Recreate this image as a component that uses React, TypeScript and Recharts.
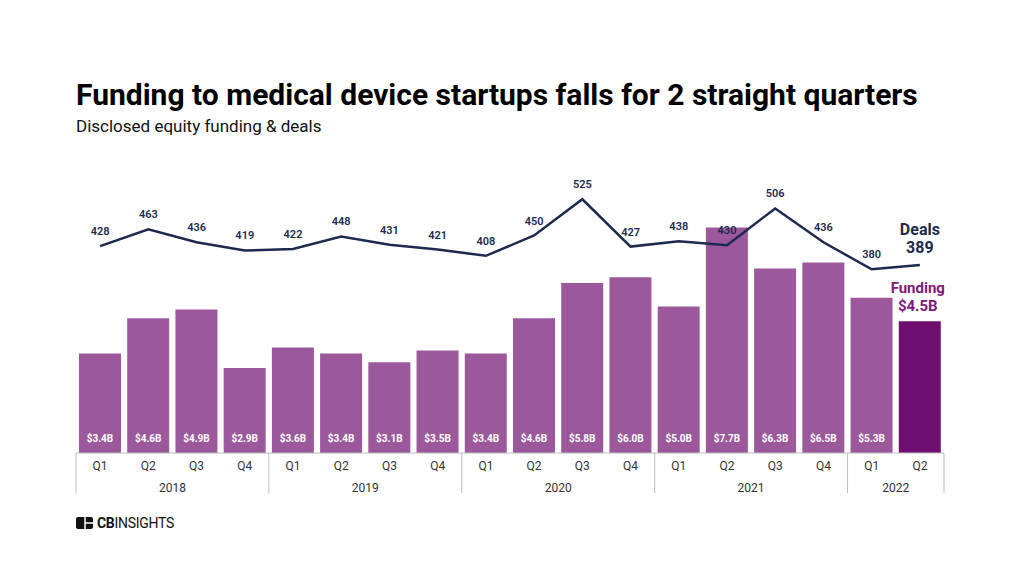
import { Bar, Cell, ComposedChart, LabelList, Line, XAxis, YAxis } from "recharts";

const quarters = ["Q1", "Q2", "Q3", "Q4", "Q1", "Q2", "Q3", "Q4", "Q1", "Q2", "Q3", "Q4", "Q1", "Q2", "Q3", "Q4", "Q1", "Q2"];
const years = ["2018", "2018", "2018", "2018", "2019", "2019", "2019", "2019", "2020", "2020", "2020", "2020", "2021", "2021", "2021", "2021", "2022", "2022"];
const funding = [3.4, 4.6, 4.9, 2.9, 3.6, 3.4, 3.1, 3.5, 3.4, 4.6, 5.8, 6.0, 5.0, 7.7, 6.3, 6.5, 5.3, 4.5];
const deals = [428, 463, 436, 419, 422, 448, 431, 421, 408, 450, 525, 427, 438, 430, 506, 436, 380, 389];

const data = quarters.map((q, i) => ({ q, year: years[i], funding: funding[i], deals: deals[i] }));

const NAVY = "#1d2a4f";
const PURPLE = "#9b599b";
const DARK_PURPLE = "#6e0f6e";
const AXIS = "#bdbdbd";
const FONT = "Roboto, 'Noto Sans', sans-serif";

const W = 1024;
const H = 576;
// bottom margin + default 30px axis height puts the baseline at y=453
const margin = { top: 163, right: 80, bottom: 93, left: 76 };
const slot = (W - margin.left - margin.right) / data.length;
const last = data.length - 1;

function QuarterTick(props: any) {
  const { x, y, index } = props;
  const yr = years[index];
  const first = index === 0 || years[index - 1] !== yr;
  let end = index;
  while (end + 1 < years.length && years[end + 1] === yr) end++;
  return (
    <g>
      <text x={x} y={y + 17} textAnchor="middle" fontSize={12} fill="#333" fontFamily={FONT}>
        {quarters[index]}
      </text>
      {first && (
        <>
          <line x1={x - slot / 2} x2={x - slot / 2} y1={y} y2={y + 40} stroke={AXIS} />
          <text x={x + ((end - index) * slot) / 2} y={y + 39} textAnchor="middle" fontSize={12} fill="#333" fontFamily={FONT}>
            {yr}
          </text>
        </>
      )}
      {index === last && <line x1={x + slot / 2} x2={x + slot / 2} y1={y} y2={y + 40} stroke={AXIS} />}
    </g>
  );
}

function FundingLabel(props: any) {
  const { x, y, width, height, index, value } = props;
  if (index === last) {
    return (
      <g fontFamily={FONT} fontWeight={700} fontSize={15} fill="#7b1a7c" textAnchor="middle">
        <text x={x + width / 2 - 2} y={y - 28}>Funding</text>
        <text x={x + width / 2 - 2} y={y - 10}>${value.toFixed(1)}B</text>
      </g>
    );
  }
  return (
    <text x={x + width / 2} y={y + height - 11} textAnchor="middle" fontSize={10} fontWeight={700} fill="#fff" fontFamily={FONT}>
      ${value.toFixed(1)}B
    </text>
  );
}

function DealsLabel(props: any) {
  const { x, y, index, value } = props;
  if (index === last) {
    return (
      <g fontFamily={FONT} fontWeight={700} fontSize={16} fill={NAVY} textAnchor="middle">
        <text x={x} y={y - 30}>Deals</text>
        <text x={x} y={y - 12}>{value}</text>
      </g>
    );
  }
  return (
    <text x={x} y={y - 11} textAnchor="middle" fontSize={11} fontWeight={600} fill={NAVY} fontFamily={FONT}>
      {value}
    </text>
  );
}

export default function App() {
  return (
    <div style={{ position: "absolute", left: 0, top: 0, width: W, height: H, background: "#fff", fontFamily: FONT }}>
      <div style={{ position: "absolute", left: 76, top: 77, fontSize: 30, fontWeight: 700, color: "#000", whiteSpace: "nowrap" }}>
        Funding to medical device startups falls for 2 straight quarters
      </div>
      <div style={{ position: "absolute", left: 76, top: 116, fontSize: 17, color: "#111", whiteSpace: "nowrap" }}>
        Disclosed equity funding &amp; deals
      </div>
      <ComposedChart width={W} height={H} data={data} margin={margin} barCategoryGap={3}>
        <XAxis
          dataKey="q"
          interval={0}
          tickSize={0}
          tickMargin={0}
          tickLine={false}
          axisLine={{ stroke: AXIS }}
          tick={<QuarterTick />}
        />
        <YAxis yAxisId="funding" hide domain={[0, 9.9]} />
        <YAxis yAxisId="deals" hide domain={[0, 600]} orientation="right" />
        <Bar yAxisId="funding" dataKey="funding" isAnimationActive={false}>
          {data.map((d, i) => (
            <Cell key={d.q + d.year} fill={i === last ? DARK_PURPLE : PURPLE} />
          ))}
          <LabelList dataKey="funding" content={<FundingLabel />} />
        </Bar>
        <Line
          yAxisId="deals"
          dataKey="deals"
          type="linear"
          stroke={NAVY}
          strokeWidth={2.5}
          dot={false}
          activeDot={false}
          isAnimationActive={false}
        >
          <LabelList dataKey="deals" content={<DealsLabel />} />
        </Line>
      </ComposedChart>
      <div style={{ position: "absolute", left: 76, top: 515, display: "flex", alignItems: "center", gap: 4 }}>
        <svg width={17} height={12}>
          <rect x={0} y={0} width={17} height={12} rx={2} fill="#111" />
          <line x1={9} x2={9} y1={0} y2={12} stroke="#fff" strokeWidth={1.5} />
          <line x1={9} x2={17} y1={6} y2={6} stroke="#fff" strokeWidth={1.5} />
        </svg>
        <span style={{ fontSize: 14, color: "#111", letterSpacing: -0.3 }}>
          <b>CB</b>INSIGHTS
        </span>
      </div>
    </div>
  );
}
